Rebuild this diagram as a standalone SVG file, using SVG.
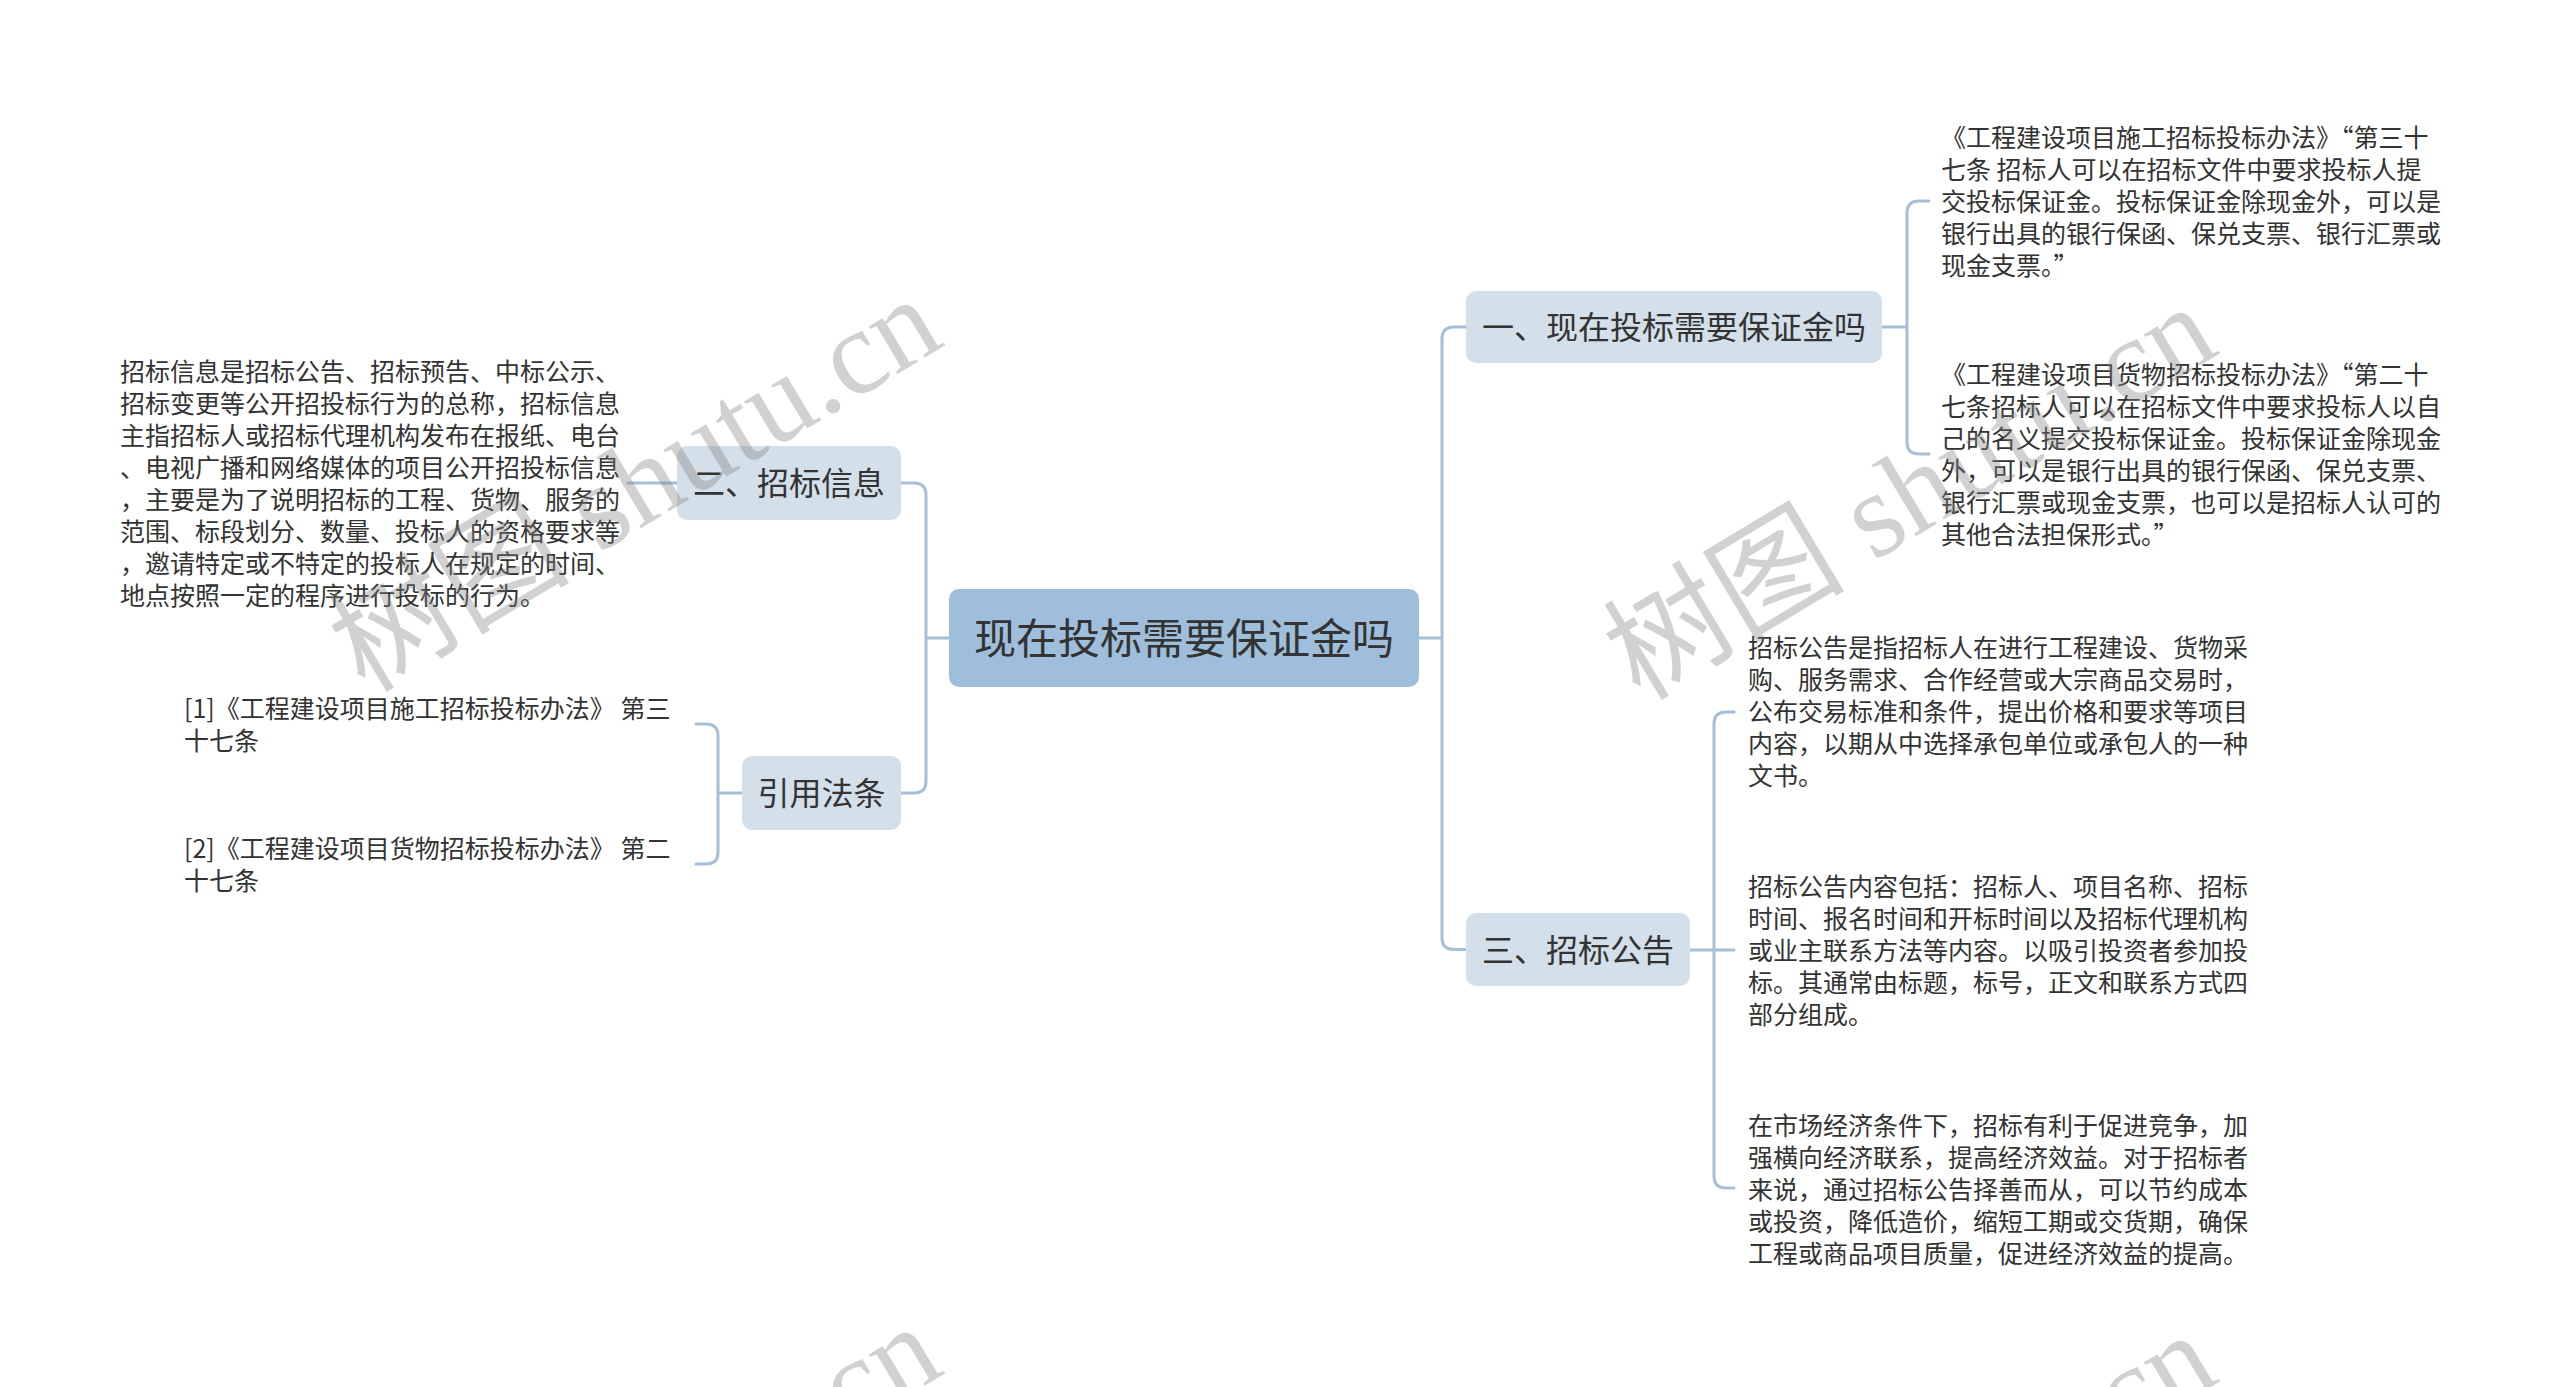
<svg xmlns="http://www.w3.org/2000/svg" width="2560" height="1387" viewBox="0 0 2560 1387">
<style>
.bg{fill:#ffffff}
.conn{fill:none;stroke:#a6bfd8;stroke-width:3;stroke-linecap:round}
.root{fill:#9ebedb}
.sub{fill:#d3e0ea}
.t{font-family:"Noto Sans CJK SC","Liberation Sans",sans-serif;fill:#333333}
.rt{font-size:42px;text-anchor:middle}
.st{font-size:32px;text-anchor:middle}
.pt{font-size:25px}
.wm{font-family:"Liberation Serif","Noto Sans CJK SC",serif;font-size:121px;fill:#808080;fill-opacity:0.36}
</style>
<rect class="bg" x="0" y="0" width="2560" height="1387"/>
<g id="connectors">
<path class="conn" d="M949 638 H926"/>
<path class="conn" d="M901 483 H914 Q926 483 926 495 V781 Q926 793 914 793 H901"/>
<path class="conn" d="M1419 638 H1442"/>
<path class="conn" d="M1466 327 H1454 Q1442 327 1442 339 V937.5 Q1442 949.5 1454 949.5 H1466"/>
<path class="conn" d="M677 483 H628"/>
<path class="conn" d="M742 793 H718"/>
<path class="conn" d="M696 724 H706 Q718 724 718 736 V852 Q718 864 706 864 H696"/>
<path class="conn" d="M1882 327 H1907"/>
<path class="conn" d="M1929 201 H1919 Q1907 201 1907 213 V442 Q1907 454 1919 454 H1929"/>
<path class="conn" d="M1690 950 H1734"/>
<path class="conn" d="M1734 712 H1726 Q1714 712 1714 724 V1176 Q1714 1188 1726 1188 H1734"/>
</g>
<g id="root">
<rect class="root" x="949" y="589" width="470" height="98" rx="10"/>
<text class="t rt" x="1184" y="654">现在投标需要保证金吗</text>
</g>
<g id="node-xinxi">
<rect class="sub" x="677" y="446" width="224" height="74" rx="10"/>
<text class="t st" x="789" y="495">二、招标信息</text>
</g>
<g id="node-xinxi-text">
<text class="t pt" x="120" y="380.5">招标信息是招标公告、招标预告、中标公示、</text>
<text class="t pt" x="120" y="412.5">招标变更等公开招投标行为的总称，招标信息</text>
<text class="t pt" x="120" y="444.5">主指招标人或招标代理机构发布在报纸、电台</text>
<text class="t pt" x="120" y="476.5">、电视广播和网络媒体的项目公开招投标信息</text>
<text class="t pt" x="120" y="508.5">，主要是为了说明招标的工程、货物、服务的</text>
<text class="t pt" x="120" y="540.5">范围、标段划分、数量、投标人的资格要求等</text>
<text class="t pt" x="120" y="572.5">，邀请特定或不特定的投标人在规定的时间、</text>
<text class="t pt" x="120" y="604.5">地点按照一定的程序进行投标的行为。</text>
</g>
<g id="node-fatiao">
<rect class="sub" x="742" y="756" width="159" height="74" rx="10"/>
<text class="t st" x="821.5" y="805">引用法条</text>
</g>
<g id="node-fatiao-1">
<text class="t pt" x="184" y="717.5">[1]《工程建设项目施工招标投标办法》 第三</text>
<text class="t pt" x="184" y="749.5">十七条</text>
</g>
<g id="node-fatiao-2">
<text class="t pt" x="184" y="857.5">[2]《工程建设项目货物招标投标办法》 第二</text>
<text class="t pt" x="184" y="889.5">十七条</text>
</g>
<g id="node-baozhengjin">
<rect class="sub" x="1466" y="291" width="416" height="72" rx="10"/>
<text class="t st" x="1674" y="339">一、现在投标需要保证金吗</text>
</g>
<g id="node-baozhengjin-1">
<text class="t pt" x="1941" y="146.5">《工程建设项目施工招标投标办法》“第三十</text>
<text class="t pt" x="1941" y="178.5">七条 招标人可以在招标文件中要求投标人提</text>
<text class="t pt" x="1941" y="210.5">交投标保证金。投标保证金除现金外，可以是</text>
<text class="t pt" x="1941" y="242.5">银行出具的银行保函、保兑支票、银行汇票或</text>
<text class="t pt" x="1941" y="274.5">现金支票。”</text>
</g>
<g id="node-baozhengjin-2">
<text class="t pt" x="1941" y="383.5">《工程建设项目货物招标投标办法》“第二十</text>
<text class="t pt" x="1941" y="415.5">七条招标人可以在招标文件中要求投标人以自</text>
<text class="t pt" x="1941" y="447.5">己的名义提交投标保证金。投标保证金除现金</text>
<text class="t pt" x="1941" y="479.5">外，可以是银行出具的银行保函、保兑支票、</text>
<text class="t pt" x="1941" y="511.5">银行汇票或现金支票，也可以是招标人认可的</text>
<text class="t pt" x="1941" y="543.5">其他合法担保形式。”</text>
</g>
<g id="node-gonggao">
<rect class="sub" x="1466" y="913" width="224" height="73" rx="10"/>
<text class="t st" x="1578" y="961.5">三、招标公告</text>
</g>
<g id="node-gonggao-1">
<text class="t pt" x="1748" y="656.5">招标公告是指招标人在进行工程建设、货物采</text>
<text class="t pt" x="1748" y="688.5">购、服务需求、合作经营或大宗商品交易时，</text>
<text class="t pt" x="1748" y="720.5">公布交易标准和条件，提出价格和要求等项目</text>
<text class="t pt" x="1748" y="752.5">内容，以期从中选择承包单位或承包人的一种</text>
<text class="t pt" x="1748" y="784.5">文书。</text>
</g>
<g id="node-gonggao-2">
<text class="t pt" x="1748" y="895.5">招标公告内容包括：招标人、项目名称、招标</text>
<text class="t pt" x="1748" y="927.5">时间、报名时间和开标时间以及招标代理机构</text>
<text class="t pt" x="1748" y="959.5">或业主联系方法等内容。以吸引投资者参加投</text>
<text class="t pt" x="1748" y="991.5">标。其通常由标题，标号，正文和联系方式四</text>
<text class="t pt" x="1748" y="1023.5">部分组成。</text>
</g>
<g id="node-gonggao-3">
<text class="t pt" x="1748" y="1134.5">在市场经济条件下，招标有利于促进竞争，加</text>
<text class="t pt" x="1748" y="1166.5">强横向经济联系，提高经济效益。对于招标者</text>
<text class="t pt" x="1748" y="1198.5">来说，通过招标公告择善而从，可以节约成本</text>
<text class="t pt" x="1748" y="1230.5">或投资，降低造价，缩短工期或交货期，确保</text>
<text class="t pt" x="1748" y="1262.5">工程或商品项目质量，促进经济效益的提高。</text>
</g>
<g id="watermarks">
<text class="wm" transform="translate(365 694) rotate(-31)">树图 shutu.cn</text>
<text class="wm" transform="translate(1640 702) rotate(-31)">树图 shutu.cn</text>
<text class="wm" transform="translate(365 1722) rotate(-31)">树图 shutu.cn</text>
<text class="wm" transform="translate(1640 1730) rotate(-31)">树图 shutu.cn</text>
</g>
</svg>
